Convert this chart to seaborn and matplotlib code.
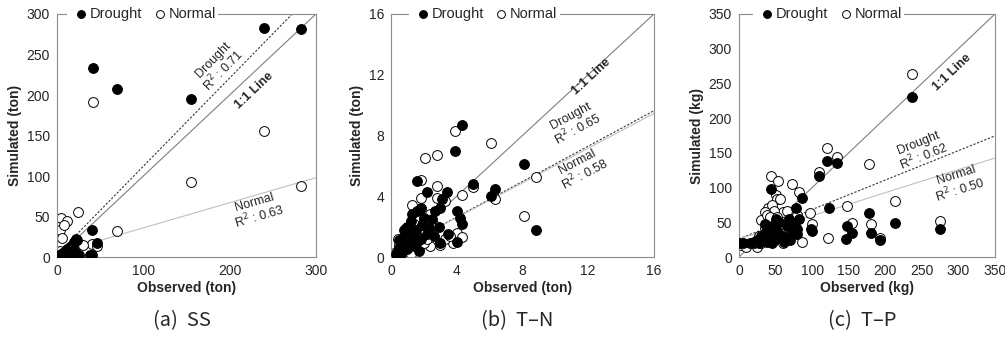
import numpy as np
import seaborn as sns
import matplotlib.pyplot as plt

sns.set_style("white")
plt.rcParams['font.family'] = ['Liberation Sans', 'DejaVu Sans']

# ---- data ----
# (a) SS, ton
ss_dro_obs = [42, 70, 155, 240, 283, 40, 46, 40, 38, 22, 20, 18, 15, 12, 10, 8, 5, 3, 1, 2, 4, 6, 9,
              12, 15, 18, 20, 22, 25, 24, 14, 16, 19, 21, 23]
ss_dro_sim = [233, 207, 195, 283, 282, 33, 17, 3, 2, 22, 18, 15, 12, 10, 8, 6, 4, 2, 1, 0.5, 1, 2, 1,
              2, 3, 2, 3, 4, 3, 1, 5, 8, 10, 20, 21]
ss_nor_obs = [42, 240, 155, 283, 70, 40, 46, 24, 5, 12, 3, 8, 6, 2, 4, 8, 12, 18, 25, 30, 1, 6, 10, 15]
ss_nor_sim = [191, 156, 92, 88, 32, 16, 13, 55, 48, 44, 33, 39, 24, 3, 8, 5, 7, 9, 16, 15, 1, 1, 2, 3]

# (b) T-N, ton
tn_dro_obs = [4.3, 3.9, 8.1, 5.0, 6.3, 6.1, 8.8, 1.6, 2.2, 3.4, 3.1, 4.0, 4.2, 4.3, 3.5, 4.0, 2.7, 3.0,
              1.8, 1.6, 1.3, 1.2, 2.0, 2.5, 2.9, 1.0, 0.8, 1.5, 2.2, 1.8, 1.3, 0.9, 0.6, 0.4, 0.3, 0.5,
              0.7, 1.0, 1.4, 1.7, 2.6, 3.0, 1.1, 0.8, 0.5, 2.3, 1.9, 0.6, 1.2, 1.6]
tn_dro_sim = [8.7, 7.0, 6.1, 4.8, 4.5, 4.0, 1.8, 5.0, 4.3, 4.3, 3.8, 3.0, 2.6, 2.2, 1.5, 1.0, 3.0, 3.2,
              3.2, 3.0, 2.8, 2.4, 2.6, 2.5, 2.0, 2.0, 1.8, 1.8, 1.5, 1.2, 1.3, 1.0, 0.8, 0.4, 0.2, 0.6,
              0.3, 0.5, 0.7, 0.4, 1.4, 0.9, 1.5, 1.3, 1.1, 1.9, 2.1, 0.2, 0.9, 1.0]
tn_nor_obs = [3.9, 2.8, 2.1, 6.1, 8.8, 5.0, 6.3, 8.1, 1.8, 2.8, 1.8, 2.8, 3.3, 4.3, 1.3, 2.0, 2.4, 4.0,
              4.3, 3.8, 3.3, 2.7, 2.4, 3.0, 3.6, 1.5, 1.0, 0.6, 0.5, 0.3, 0.8, 1.2, 1.7, 2.0, 2.2, 1.4,
              0.9, 0.4, 1.1, 2.6]
tn_nor_sim = [8.3, 6.7, 6.5, 7.5, 5.3, 4.6, 3.8, 2.7, 5.1, 4.7, 3.9, 3.9, 3.7, 4.1, 3.4, 2.5, 2.8, 1.6,
              1.3, 0.9, 1.2, 1.0, 0.7, 0.8, 1.4, 1.5, 1.3, 1.0, 0.8, 0.3, 0.5, 0.2, 0.6, 0.9, 1.2, 2.2,
              1.9, 1.2, 0.8, 2.1]

# (c) T-P, kg
tp_dro_obs = [237, 120, 134, 109, 86, 78, 123, 178, 44, 148, 213, 275, 154, 181, 147, 193, 100, 98, 80,
              80, 82, 70, 60, 55, 50, 45, 40, 35, 30, 25, 20, 0, 6, 15, 28, 38, 48, 58, 65, 72, 42, 52,
              33, 62, 45, 35, 50, 55, 68, 75]
tp_dro_sim = [231, 138, 136, 117, 85, 70, 70, 64, 98, 44, 49, 41, 34, 34, 26, 25, 38, 41, 40,
              33, 55, 25, 30, 50, 55, 45, 40, 35, 30, 25, 22, 20, 20, 20, 20, 22, 25, 28, 45, 35, 30, 38,
              27, 22, 20, 48, 40, 32, 55, 48]
tp_nor_obs = [237, 120, 134, 109, 178, 213, 275, 148, 154, 181, 193, 122, 86, 100, 97, 44, 53, 72, 82,
              50, 52, 56, 40, 45, 60, 65, 48, 35, 30, 38, 55, 72, 80, 28, 40, 25, 30, 45, 60, 3, 10, 20,
              50, 42, 52, 36, 66]
tp_nor_sim = [264, 157, 144, 122, 134, 80, 52, 74, 49, 47, 27, 27, 21, 47, 63, 117, 110, 105, 93,
              90, 84, 83, 70, 75, 65, 66, 66, 65, 54, 60, 45, 55, 60, 30, 35, 15, 20, 25, 20, 17, 15, 20,
              50, 58, 58, 42, 38]

# regression lines (intercept, slope) and R2 labels
ss_fit_dro, ss_fit_nor = (3, 1.09), (5, 0.31)
tn_fit_dro, tn_fit_nor = (0.3, 0.583), (0.3, 0.572)
tp_fit_dro, tp_fit_nor = (26, 0.424), (26, 0.333)

panels = [
    dict(dro=(ss_dro_obs, ss_dro_sim), nor=(ss_nor_obs, ss_nor_sim), lim=300, ticks=np.arange(0, 301, 50),
         xticks=np.arange(0, 301, 100), unit="ton", fd=ss_fit_dro, fn=ss_fit_nor, r2d="0.71", r2n="0.63",
         pos_line=(228, 206), pos_d=(188, 236), pos_n=(232, 58), cap="(a)  SS",
         rect=[0.0567, 0.2396, 0.2577, 0.719], leg_x=0.33),
    dict(dro=(tn_dro_obs, tn_dro_sim), nor=(tn_nor_obs, tn_nor_sim), lim=16, ticks=np.arange(0, 17, 4),
         xticks=np.arange(0, 17, 4), unit="ton", fd=tn_fit_dro, fn=tn_fit_nor, r2d="0.65", r2n="0.58",
         pos_line=(12.2, 11.9), pos_d=(11.2, 8.8), pos_n=(11.6, 5.8), cap="(b)  T\u2013N",
         rect=[0.389, 0.2396, 0.2617, 0.719], leg_x=0.355),
    dict(dro=(tp_dro_obs, tp_dro_sim), nor=(tp_nor_obs, tp_nor_sim), lim=350, ticks=np.arange(0, 351, 50),
         xticks=np.arange(0, 351, 50), unit="kg", fd=tp_fit_dro, fn=tp_fit_nor, r2d="0.62", r2n="0.50",
         pos_line=(292, 265), pos_d=(250, 153), pos_n=(300, 106), cap="(c)  T\u2013P",
         rect=[0.7353, 0.2396, 0.2547, 0.719], leg_x=0.35),
]

fig = plt.figure(figsize=(10.05, 3.38), dpi=100)

for p in panels:
    ax = fig.add_axes(p["rect"])
    lim = p["lim"]
    xs = np.array([0, lim])

    # 1:1 and regression lines
    ax.plot(xs, xs, color="#7f7f7f", lw=0.8, zorder=1)
    ax.plot(xs, p["fd"][0] + p["fd"][1] * xs, color="#333333", lw=0.8, ls=(0, (2, 1.5)), zorder=1)
    ax.plot(xs, p["fn"][0] + p["fn"][1] * xs, color="#c0c0c0", lw=0.8, zorder=1)

    sns.scatterplot(x=p["nor"][0], y=p["nor"][1], ax=ax, color="white", edgecolor="black",
                    linewidth=0.7, s=50, label="Normal", zorder=2)
    sns.scatterplot(x=p["dro"][0], y=p["dro"][1], ax=ax, color="black", edgecolor="black",
                    linewidth=0.7, s=50, label="Drought", zorder=3)

    ax.set_xlim(0, lim)
    ax.set_ylim(0, lim)
    ax.set_xticks(p["xticks"])
    ax.set_yticks(p["ticks"])
    ax.tick_params(length=0, labelsize=10, pad=5)
    for s in ax.spines.values():
        s.set_color("#8c8c8c")
        s.set_linewidth(0.8)
    ax.set_xlabel(f"Observed ({p['unit']})", fontsize=10, fontweight="bold", labelpad=2)
    ax.set_ylabel(f"Simulated ({p['unit']})", fontsize=10, fontweight="bold", labelpad=3)

    # text along the lines
    ax.text(*p["pos_line"], "1:1 Line", fontsize=9, fontweight="bold", rotation=45,
            transform_rotates_text=True, rotation_mode="anchor", ha="center", va="center")
    ang_d = np.degrees(np.arctan(p["fd"][1]))
    ang_n = np.degrees(np.arctan(p["fn"][1]))
    ax.text(*p["pos_d"], f"Drought\nR$^2$ : {p['r2d']}", fontsize=9, rotation=ang_d,
            transform_rotates_text=True, rotation_mode="anchor", ha="center", va="center",
            linespacing=1.0)
    ax.text(*p["pos_n"], f"Normal\nR$^2$ : {p['r2n']}", fontsize=9, rotation=ang_n,
            transform_rotates_text=True, rotation_mode="anchor", ha="center", va="center",
            linespacing=1.0)

    h, l = ax.get_legend_handles_labels()
    leg = ax.legend(h[::-1], l[::-1], loc="center", bbox_to_anchor=(p["leg_x"], 1.0), ncol=2,
                    frameon=True, framealpha=1, facecolor="white", edgecolor="none",
                    fontsize=10.5, handletextpad=-0.2, columnspacing=0.4, borderpad=0.15,
                    handlelength=1.6, markerscale=0.8, fancybox=False)
    leg.set_zorder(5)

    cx = p["rect"][0] + p["rect"][2] / 2 - 0.005
    fig.text(cx, 0.052, p["cap"], fontsize=14.5, ha="center", va="center",
             family=["Noto Sans CJK KR", "DejaVu Sans"])

fig.savefig("out.png", dpi=100)
